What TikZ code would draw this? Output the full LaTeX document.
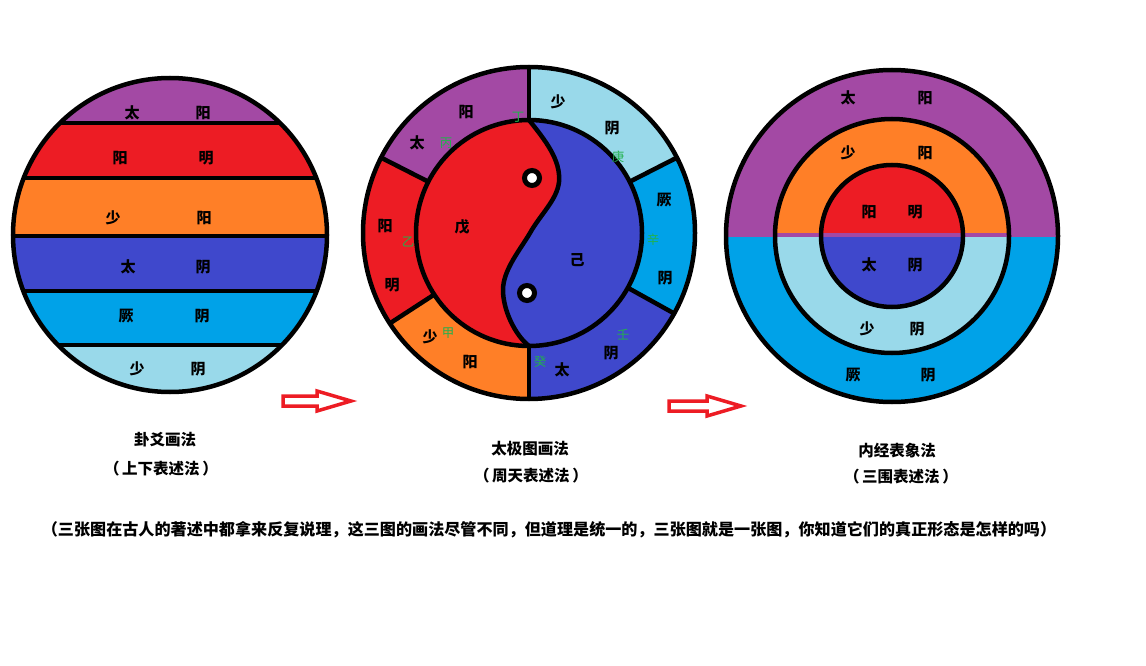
\documentclass[tikz,border=0pt]{standalone}
\usepackage{fontspec}
\setmainfont{Noto Sans CJK SC}
\definecolor{ppurple}{HTML}{A349A4}
\definecolor{pred}{HTML}{ED1C24}
\definecolor{porange}{HTML}{FF7F27}
\definecolor{pblue}{HTML}{3F48CC}
\definecolor{pcyan}{HTML}{00A2E8}
\definecolor{plight}{HTML}{99D9EA}
\definecolor{pgreen}{HTML}{22B14C}
\tikzset{
  lbl/.style={font=\fontsize{15}{15}\selectfont\bfseries, inner sep=0pt},
  glbl/.style={font=\fontsize{12.5}{12.5}\selectfont, text=pgreen, inner sep=0pt},
  captext/.style={font=\fontsize{15.5}{16}\selectfont\bfseries, inner sep=0pt},
  notetext/.style={font=\fontsize{16.1}{17}\selectfont\bfseries, inner sep=0pt},
  bline/.style={line width=4.5pt, black},
  harrow/.style={draw=pred, line width=3.5pt, fill=white, line join=miter},
}
\begin{document}
\begin{tikzpicture}[x=1pt,y=-1pt]
\useasboundingbox (0,0) rectangle (1146,666);
\fill[white] (0,0) rectangle (1146,666);

% ---------- left disc ----------
\coordinate (L) at (170,235);
\begin{scope}
  \clip (L) circle (157);
  \fill[ppurple] (0,60) rectangle (340,123);
  \fill[pred]    (0,123) rectangle (340,178);
  \fill[porange] (0,178) rectangle (340,236);
  \fill[pblue]   (0,236) rectangle (340,291);
  \fill[pcyan]   (0,291) rectangle (340,345);
  \fill[plight]  (0,345) rectangle (340,400);
  \foreach \yy in {123,178,236,291,345} \draw[bline] (0,\yy) -- (340,\yy);
\end{scope}
\draw[bline] (L) circle (157);
\node[lbl] (l1a) at (132,113) {太}; \node[lbl] (l1b) at (203,113) {阳};
\node[lbl] (l2a) at (120,158) {阳}; \node[lbl] (l2b) at (206,158) {明};
\node[lbl] (l3a) at (113,218) {少}; \node[lbl] (l3b) at (204,218) {阳};
\node[lbl] (l4a) at (128,267) {太}; \node[lbl] (l4b) at (203,267) {阴};
\node[lbl] (l5a) at (126,316) {厥}; \node[lbl] (l5b) at (202,316) {阴};
\node[lbl] (l6a) at (137,369) {少}; \node[lbl] (l6b) at (198,369) {阴};

% ---------- middle disc ----------
\coordinate (M) at (529,233);
\fill[ppurple] (M) -- ++(-90:166)  arc[start angle=-90,  end angle=-153, radius=166] -- cycle;
\fill[pred]    (M) -- ++(-153:166) arc[start angle=-153, end angle=-213, radius=166] -- cycle;
\fill[porange] (M) -- ++(-213:166) arc[start angle=-213, end angle=-270, radius=166] -- cycle;
\fill[pblue]   (M) -- ++(-270:166) arc[start angle=-270, end angle=-331, radius=166] -- cycle;
\fill[pcyan]   (M) -- ++(-331:166) arc[start angle=-331, end angle=-387, radius=166] -- cycle;
\fill[plight]  (M) -- ++(-387:166) arc[start angle=-387, end angle=-450, radius=166] -- cycle;
\fill[pblue] (M) circle (113);
\fill[pred] (529,120) .. controls (545,140) and (561,160) .. (559,182)
  .. controls (557,200) and (540,215) .. (530,233)
  .. controls (520,250) and (503,270) .. (503,290)
  .. controls (503,310) and (515,335) .. (529,346)
  arc[start angle=90, end angle=270, radius=113] -- cycle;
\draw[bline] (529,120) .. controls (545,140) and (561,160) .. (559,182)
  .. controls (557,200) and (540,215) .. (530,233)
  .. controls (520,250) and (503,270) .. (503,290)
  .. controls (503,310) and (515,335) .. (529,346);
\draw[line width=5pt, fill=white] (532,178) circle (7.5);
\draw[line width=5pt, fill=white] (527,293) circle (7.5);
\foreach \a in {-90,-153,-213,90,29,-27}
  \draw[bline, shift={(M)}] (\a:113) -- (\a:166);
\draw[bline] (M) circle (113);
\draw[bline] (M) circle (166);
\node[lbl] (m1) at (466,112) {阳};
\node[lbl] (m2) at (417,143) {太};
\node[lbl] (m3) at (558,102) {少};
\node[lbl] (m4) at (612,128) {阴};
\node[lbl] (m5) at (664,200) {厥};
\node[lbl] (m6) at (665,278) {阴};
\node[lbl] (m7) at (611,353) {阴};
\node[lbl] (m8) at (562,370) {太};
\node[lbl] (m9) at (430,337) {少};
\node[lbl] (m10) at (470,362) {阳};
\node[lbl] (m11) at (385,226) {阳};
\node[lbl] (m12) at (392,285) {明};
\node[lbl] (m13) at (462,227) {戊};
\node[lbl] (m14) at (577,260) {己};
\node[glbl] (g1) at (446,143) {丙};
\node[glbl] (g2) at (518,117) {丁};
\node[glbl] (g3) at (618,157) {庚};
\node[glbl] (g4) at (653,240) {辛};
\node[glbl] (g5) at (623,335) {壬};
\node[glbl] (g6) at (540,362) {癸};
\node[glbl] (g7) at (448,333) {甲};
\node[glbl] (g8) at (408,242) {乙};

% ---------- right disc ----------
\coordinate (R) at (892,236);
\fill[pcyan] (R) circle (166);
\fill[ppurple] ([shift={(R)}]180:166) arc[start angle=180, end angle=360, radius=166] -- cycle;
\fill[plight] (R) circle (117);
\fill[porange] ([shift={(R)}]180:117) arc[start angle=180, end angle=360, radius=117] -- cycle;
\fill[pblue] (R) circle (71);
\fill[pred] ([shift={(R)}]180:71) arc[start angle=180, end angle=360, radius=71] -- cycle;
\draw[line width=4.5pt, ppurple] (727,235) -- (1059,235);
\draw[bline] (R) circle (71);
\draw[bline] (R) circle (117);
\draw[bline] (R) circle (166);
\node[lbl] (r1a) at (848,98)  {太}; \node[lbl] (r1b) at (925,98)  {阳};
\node[lbl] (r2a) at (848,153) {少}; \node[lbl] (r2b) at (925,153) {阳};
\node[lbl] (r3a) at (869,212) {阳}; \node[lbl] (r3b) at (915,212) {明};
\node[lbl] (r4a) at (869,265) {太}; \node[lbl] (r4b) at (915,265) {阴};
\node[lbl] (r5a) at (867,329) {少}; \node[lbl] (r5b) at (917,329) {阴};
\node[lbl] (r6a) at (853,375) {厥}; \node[lbl] (r6b) at (928,375) {阴};

% ---------- hollow arrows ----------
\draw[harrow] (283,396) -- (317,396) -- (317,391) -- (351,401) -- (317,411) -- (317,406) -- (283,406) -- cycle;
\draw[harrow] (669,401) -- (707,401) -- (707,396) -- (741,406) -- (707,416) -- (707,411) -- (669,411) -- cycle;

% ---------- captions ----------
\node[captext] (c1a) at (165,440) {卦爻画法};
\node[captext] (c1b) at (161,469) {（\,上下表述法\,）};
\node[captext] (c2a) at (530,449) {太极图画法};
\node[captext] (c2b) at (531,476) {（\,周天表述法\,）};
\node[captext] (c3a) at (897,451) {内经表象法};
\node[captext] (c3b) at (901,477) {（\,三围表述法\,）};
\node[notetext] (note) at (549,530) {（三张图在古人的著述中都拿来反复说理，这三图的画法尽管不同，但道理是统一的，三张图就是一张图，你知道它们的真正形态是怎样的吗）};
\end{tikzpicture}
\end{document}
